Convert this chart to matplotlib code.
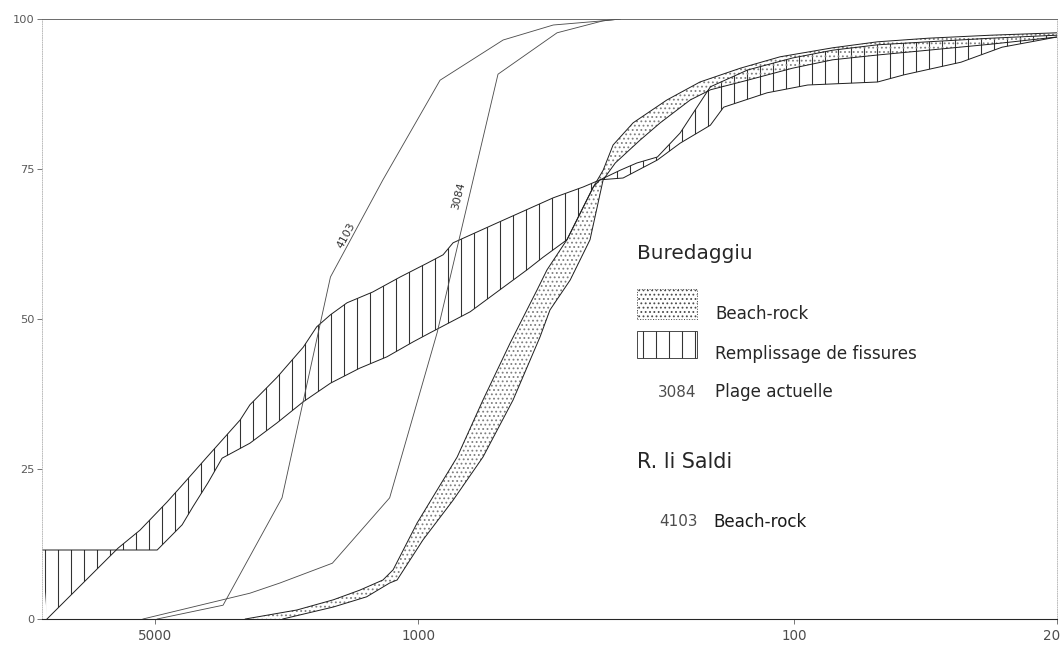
import matplotlib
matplotlib.use("Agg")
import numpy as np
import matplotlib.pyplot as plt
from matplotlib.patches import Rectangle
from matplotlib.ticker import NullLocator, FixedLocator
from matplotlib.transforms import ScaledTranslation

# grain size (microns) vs cumulative percent

# R. li Saldi - 4103 beach-rock
s4103_size = [4940, 3300, 2300, 1710, 1240, 874, 594, 437, 322, 290]
s4103_pct = [0, 2.3, 20.2, 57, 73.2, 89.8, 96.5, 99, 99.7, 100]

# Buredaggiu - 3084 plage actuelle
s3084_size = [5390, 2800, 2330, 1690, 1190, 890, 613, 427, 322, 290]
s3084_pct = [0, 4.3, 6, 9.3, 20.2, 47.7, 90.8, 97.7, 99.7, 100]

# Buredaggiu - remplissage de fissures (envelope, two limit curves)
fiss_a_size = [9700, 6280, 5490, 4650, 4240, 3640, 3320, 2970, 2800, 2370, 2020, 1860,
               1710, 1545, 1320, 1116, 946, 858, 807, 617, 437, 364, 328, 290, 262, 231,
               201, 167, 133, 101, 79, 60, 44, 30, 20]
fiss_a_pct = [0, 11.8, 14.8, 19.5, 22.3, 27, 29.8, 33.2, 35.7, 40.3, 45.3, 48.7,
              50.7, 52.7, 54.5, 57, 59.3, 60.7, 62.7, 66, 70.2, 72, 73.2, 74.8, 76, 77,
              81, 88.7, 91.5, 93.5, 94.8, 95.7, 96.2, 96.8, 97.3]
fiss_b_size = [10000, 4940, 4240, 3970, 3620, 3320, 2800, 2370, 2020, 1710, 1430, 1210,
               1030, 929, 727, 617, 513, 465, 402, 342, 328, 285, 231, 201, 167, 154,
               118, 92, 60, 51, 36, 28, 20]
fiss_b_pct = [11.5, 11.5, 15.7, 18.7, 22.7, 26.8, 29.3, 32.7, 36.2, 39.3, 41.8, 43.7,
              46.2, 47.7, 51.2, 54.5, 58.2, 60.3, 63.2, 72, 73.2, 73.5, 76.5, 79.3, 82.3, 85.3,
              87.7, 89, 89.5, 90.7, 92.8, 95.3, 97]

# Buredaggiu - beach-rock (envelope)
beach_up_size = [2880, 2100, 1680, 1430, 1240, 1165, 1006, 787, 672, 569, 483, 454, 402,
                 342, 322, 303, 268, 218, 178, 139, 109, 79, 60, 44, 30, 20]
beach_up_pct = [0, 1.5, 3.2, 4.8, 6.5, 8.2, 16, 27, 36.5, 46, 54.8, 58.2, 63.2,
                72, 74.8, 79, 82.7, 86.5, 89.5, 91.8, 93.7, 95.2, 96.2, 96.8, 97.3, 97.7]
beach_lo_size = [2290, 1680, 1370, 1190, 1137, 970, 807, 672, 559, 474, 446, 394, 349,
                 322, 299, 257, 227, 189, 167, 133, 101, 79, 60, 44, 30, 20]
beach_lo_pct = [0, 2, 3.7, 6, 6.5, 13.2, 19.8, 27, 36.5, 47, 51.5, 56.5, 63.2,
                73.2, 76, 79.8, 82.7, 86.5, 88.2, 89.8, 91.8, 93.2, 94, 94.8, 95.8, 97]

xticks = [5000, 1000, 100, 20]
xticklabels = ["5000", "1000", "100", "20"]
yticks = [0, 25, 50, 75, 100]

DPI = 78
fig = plt.figure(figsize=(1061 / DPI, 646 / DPI), dpi=DPI, facecolor='white')
ax = fig.add_axes([42 / 1061, 27 / 646, 1015 / 1061, 600 / 646])

# bands
ax.fill(np.concatenate([fiss_a_size, fiss_b_size[::-1]]),
        np.concatenate([fiss_a_pct, fiss_b_pct[::-1]]),
        facecolor='none', edgecolor='0.2', hatch='|', linewidth=0)
ax.fill(np.concatenate([beach_up_size, beach_lo_size[::-1]]),
        np.concatenate([beach_up_pct, beach_lo_pct[::-1]]),
        facecolor='none', edgecolor='0.5', hatch='...', linewidth=0)

for xs, ys in [(fiss_a_size, fiss_a_pct), (fiss_b_size, fiss_b_pct),
               (beach_up_size, beach_up_pct), (beach_lo_size, beach_lo_pct)]:
    ax.plot(xs, ys, color='0.12', lw=0.9)

ax.plot(s4103_size, s4103_pct, color='0.3', lw=0.8)
ax.plot(s3084_size, s3084_pct, color='0.3', lw=0.8)

ax.text(1554, 64, "4103", rotation=62, rotation_mode='anchor', ha='center', va='center',
        fontsize=10, color='0.2')
ax.text(778, 70.5, "3084", rotation=76, rotation_mode='anchor', ha='center', va='center',
        fontsize=10, color='0.2')

# axes
ax.set_xscale('log')
ax.set_xlim(10000, 20)
ax.set_ylim(0, 100)
ax.xaxis.set_major_locator(FixedLocator(xticks))
ax.xaxis.set_minor_locator(NullLocator())
ax.set_xticklabels(xticklabels)
ax.set_yticks(yticks)
ax.set_yticklabels([str(v) for v in yticks])
ax.tick_params(axis='x', direction='out', length=5, width=0.8, color='0.4',
               labelsize=12.5, labelcolor='0.3', pad=4)
ax.tick_params(axis='y', direction='out', length=5, width=0.8, color='0.4',
               labelsize=10.5, labelcolor='0.35', pad=2)
# keep the last label ("20") inside the canvas
lab = ax.get_xticklabels()[-1]
lab.set_transform(lab.get_transform() + ScaledTranslation(-5 / DPI, 0, fig.dpi_scale_trans))

ax.spines['left'].set_linestyle(':')
ax.spines['left'].set_color('0.7')
ax.spines['right'].set_linestyle(':')
ax.spines['right'].set_color('0.7')
ax.spines['top'].set_color('0.35')
ax.spines['top'].set_linewidth(0.8)
ax.spines['bottom'].set_color('0.15')
ax.spines['bottom'].set_linewidth(1.0)

# legend block
tr = ax.transAxes
ax.text(0.586, 0.61, "Buredaggiu", transform=tr, fontsize=18.5, color='0.15', va='center')
ax.add_patch(Rectangle((0.586, 0.50), 0.059, 0.05, transform=tr, facecolor='none',
                       edgecolor='0.3', hatch='...', linewidth=0.9, linestyle=':'))
ax.text(0.663, 0.508, "Beach-rock", transform=tr, fontsize=15.5, color='0.15', va='center')
ax.add_patch(Rectangle((0.586, 0.435), 0.059, 0.045, transform=tr, facecolor='none',
                       edgecolor='0.2', hatch='|', linewidth=0.8))
ax.text(0.663, 0.442, "Remplissage de fissures", transform=tr, fontsize=15.5, color='0.15',
        va='center')
ax.text(0.645, 0.378, "3084", transform=tr, fontsize=14, color='0.3', va='center', ha='right')
ax.text(0.663, 0.378, "Plage actuelle", transform=tr, fontsize=15.5, color='0.15', va='center')
ax.text(0.586, 0.262, "R. li Saldi", transform=tr, fontsize=19, color='0.15', va='center')
ax.text(0.646, 0.162, "4103", transform=tr, fontsize=14, color='0.3', va='center', ha='right')
ax.text(0.661, 0.162, "Beach-rock", transform=tr, fontsize=15.5, color='0.1', va='center')

fig.savefig("out.png", dpi=DPI, facecolor='white')
